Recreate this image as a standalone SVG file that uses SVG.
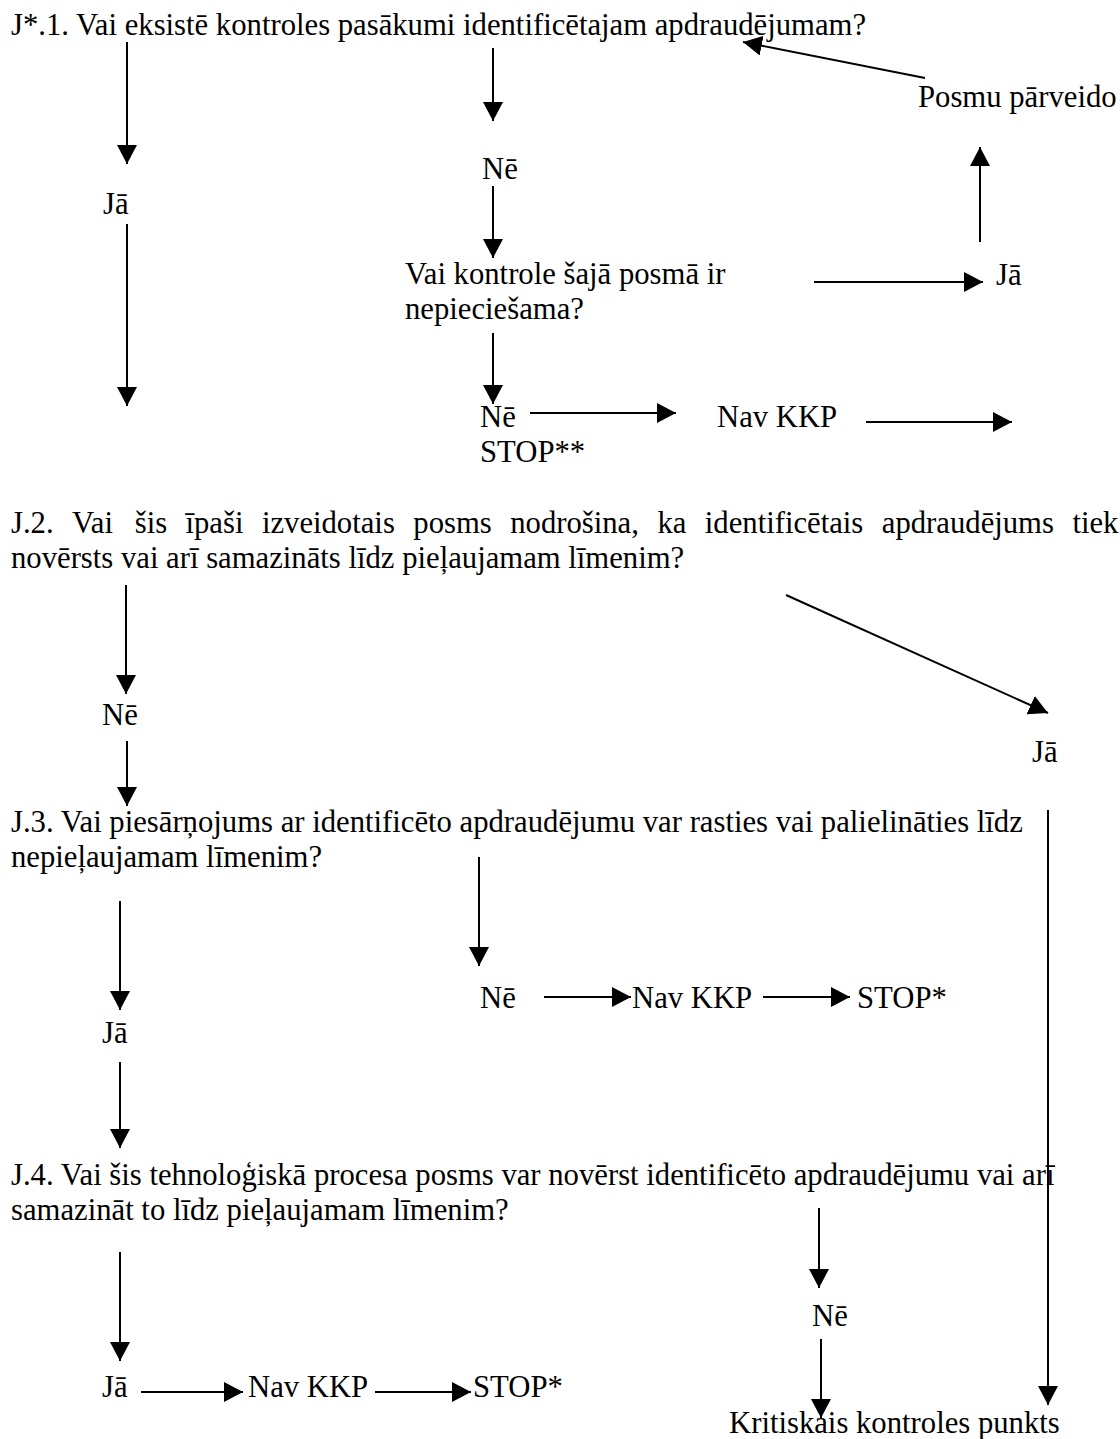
<svg xmlns="http://www.w3.org/2000/svg" width="1120" height="1439" viewBox="0 0 1120 1439">
<style>
text{font-family:"Liberation Serif","Times New Roman",serif;font-size:30.7px;fill:#000}
.c line{stroke:#000;stroke-width:2;marker-end:url(#ah)}
</style>
<defs>
<marker id="ah" viewBox="0 0 19 20" refX="19" refY="10" markerWidth="19" markerHeight="20" markerUnits="userSpaceOnUse" orient="auto">
<path d="M0,0 L19,10 L0,20 z" fill="#000"/>
</marker>
</defs>
<rect width="1120" height="1439" fill="#fff"/>
<g id="q1"><text x="11" y="35">J*.1. Vai eksistē kontroles pasākumi identificētajam apdraudējumam?</text></g>
<g id="q1-ja"><text x="103" y="214">Jā</text></g>
<g id="q1-ne"><text x="482" y="179">Nē</text></g>
<g id="q1b"><text x="405" y="284">Vai kontrole šajā posmā ir</text><text x="405" y="319">nepieciešama?</text></g>
<g id="q1b-ja"><text x="996" y="285">Jā</text></g>
<g id="posmu"><text x="918" y="107">Posmu pārveido</text></g>
<g id="q1b-ne"><text x="480" y="427">Nē</text><text x="480" y="462">STOP**</text></g>
<g id="navkkp1"><text x="717" y="427">Nav KKP</text></g>
<g id="q2"><text y="533"><tspan x="11">J.2.</tspan><tspan x="72">Vai</tspan><tspan x="134.7">šis</tspan><tspan x="185.5">īpaši</tspan><tspan x="261.9">izveidotais</tspan><tspan x="413.3">posms</tspan><tspan x="510.2">nodrošina,</tspan><tspan x="657.4">ka</tspan><tspan x="704.8">identificētais</tspan><tspan x="881.8">apdraudējums</tspan><tspan x="1072.4">tiek</tspan></text><text x="11" y="568">novērsts vai arī samazināts līdz pieļaujamam līmenim?</text></g>
<g id="q2-ne"><text x="102" y="725">Nē</text></g>
<g id="q2-ja"><text x="1032" y="762">Jā</text></g>
<g id="q3"><text x="11" y="832">J.3. Vai piesārņojums ar identificēto apdraudējumu var rasties vai palielināties līdz</text><text x="11" y="867">nepieļaujamam līmenim?</text></g>
<g id="q3-ja"><text x="102" y="1043">Jā</text></g>
<g id="q3-ne"><text x="480" y="1008">Nē</text></g>
<g id="navkkp3"><text x="632" y="1008">Nav KKP</text></g>
<g id="stop3"><text x="857" y="1008">STOP*</text></g>
<g id="q4"><text x="11" y="1185">J.4. Vai šis tehnoloģiskā procesa posms var novērst identificēto apdraudējumu vai arī</text><text x="11" y="1220">samazināt to līdz pieļaujamam līmenim?</text></g>
<g id="q4-ja"><text x="102" y="1397">Jā</text></g>
<g id="navkkp4"><text x="248" y="1397">Nav KKP</text></g>
<g id="stop4"><text x="473" y="1397">STOP*</text></g>
<g id="q4-ne"><text x="812" y="1326">Nē</text></g>
<g id="kkp"><text x="729" y="1433">Kritiskais kontroles punkts</text></g>
<g id="connectors" class="c">
<line x1="127" y1="42" x2="127" y2="164"/>
<line x1="127" y1="224" x2="127" y2="406"/>
<line x1="493" y1="48" x2="493" y2="121"/>
<line x1="493" y1="186" x2="493" y2="258"/>
<line x1="493" y1="333" x2="493" y2="404"/>
<line x1="814" y1="282" x2="983" y2="282"/>
<line x1="980" y1="242" x2="980" y2="147"/>
<line x1="925" y1="78" x2="743" y2="42"/>
<line x1="530" y1="413" x2="676" y2="413"/>
<line x1="866" y1="422" x2="1012" y2="422"/>
<line x1="126" y1="585" x2="126" y2="694"/>
<line x1="127" y1="741" x2="127" y2="806"/>
<line x1="786" y1="595" x2="1048" y2="713"/>
<line x1="1048" y1="810" x2="1048" y2="1405"/>
<line x1="120" y1="901" x2="120" y2="1010"/>
<line x1="120" y1="1062" x2="120" y2="1148"/>
<line x1="479" y1="857" x2="479" y2="966"/>
<line x1="544" y1="997" x2="631" y2="997"/>
<line x1="763" y1="997" x2="850" y2="997"/>
<line x1="120" y1="1252" x2="120" y2="1361"/>
<line x1="141" y1="1392" x2="243" y2="1392"/>
<line x1="375" y1="1392" x2="471" y2="1392"/>
<line x1="819" y1="1208" x2="819" y2="1288"/>
<line x1="821" y1="1339" x2="821" y2="1418"/>
</g>
</svg>
